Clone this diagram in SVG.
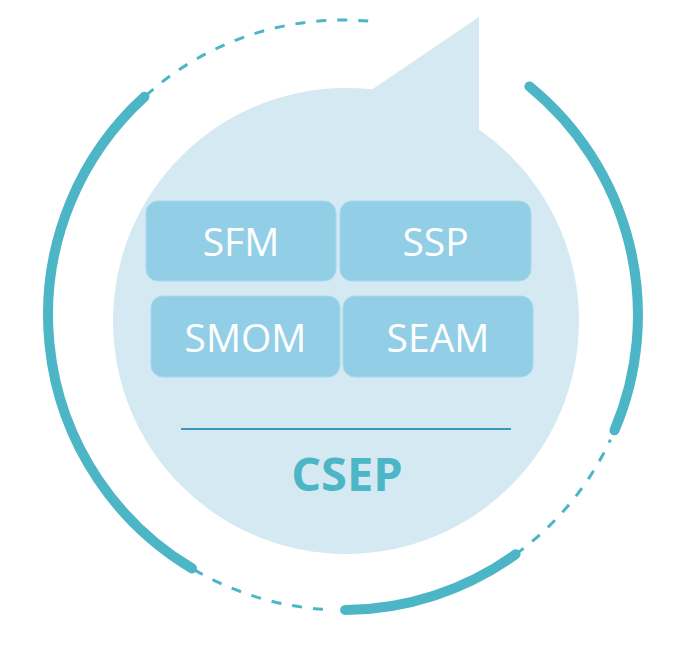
<svg xmlns="http://www.w3.org/2000/svg" width="686" height="650" viewBox="0 0 686 650">
  <style>
    .ring { fill: none; stroke: #4cb6c6; }
    .solid { stroke-width: 10; stroke-linecap: round; }
    .dash { stroke-width: 3; stroke-dasharray: 10 11; }
    .box { fill: #92cfe7; stroke: #a6d8ea; stroke-width: 1; }
    .lbl { font-family: "Open Sans", "Liberation Sans", sans-serif; font-size: 39px; fill: #ffffff; text-anchor: middle; }
    .title { font-family: "Open Sans", "Liberation Sans", sans-serif; font-size: 47px; font-weight: bold; fill: #4cb6c6; text-anchor: middle; }
  </style>
  <rect width="686" height="650" fill="#ffffff"/>

  <!-- outer cycle ring: solid arcs joined by dashed arcs -->
  <g id="connectors">
    <path class="ring solid" d="M144.5,96.8 A295,295 0 0 0 192.0,568.4"/>
    <path class="ring dash" d="M368.2,21.1 A295,295 0 0 0 144.5,96.8"/>
    <path class="ring dash" d="M322.9,609.3 A295,295 0 0 1 192.0,568.4"/>
    <path class="ring solid" d="M345.1,610 A295,295 0 0 0 515.6,554.3"/>
    <path class="ring dash" d="M515.6,554.3 A295,295 0 0 0 610.4,439.7"/>
    <path class="ring solid" d="M614.5,430.3 A295,295 0 0 0 529.4,86.4"/>
  </g>

  <!-- speech bubble -->
  <g id="bubble">
    <circle cx="346" cy="321" r="233" fill="#d4e9f2"/>
    <polygon points="372,89.5 479,17 479,130 503,149" fill="#d4e9f2"/>
  </g>

  <g id="sfm">
    <rect class="box" x="146" y="201" width="190" height="80" rx="12"/>
    <text class="lbl" x="241" y="256">SFM</text>
  </g>
  <g id="ssp">
    <rect class="box" x="340" y="201" width="191" height="80" rx="12"/>
    <text class="lbl" x="435.5" y="256">SSP</text>
  </g>
  <g id="smom">
    <rect class="box" x="151" y="296" width="189" height="81" rx="12"/>
    <text class="lbl" x="245.5" y="352">SMOM</text>
  </g>
  <g id="seam">
    <rect class="box" x="343" y="296" width="190" height="81" rx="12"/>
    <text class="lbl" x="438" y="352">SEAM</text>
  </g>

  <g id="csep">
    <line x1="181" y1="429" x2="511" y2="429" stroke="#3a97c2" stroke-width="2"/>
    <text class="title" x="347" y="491">CSEP</text>
  </g>
</svg>
